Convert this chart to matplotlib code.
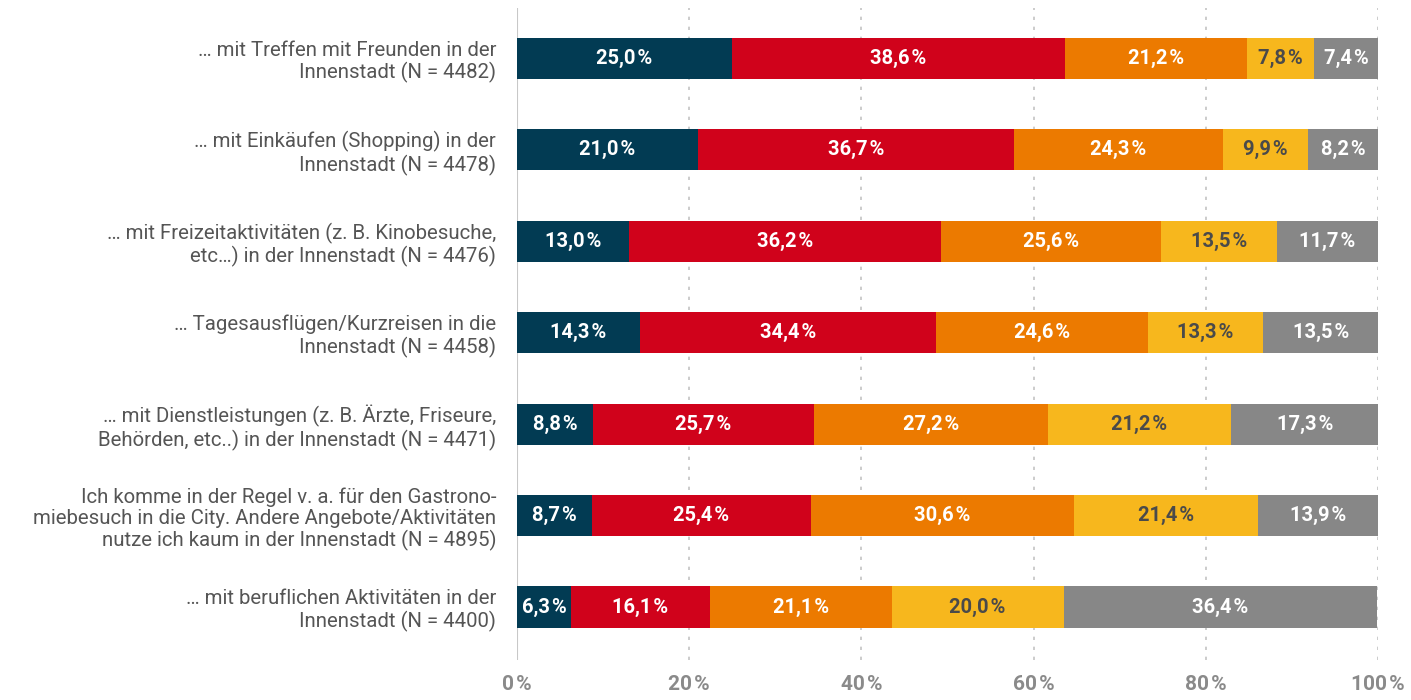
import matplotlib
matplotlib.use('Agg')
import matplotlib.pyplot as plt
import numpy as np

plt.rcParams['font.family'] = ['Roboto', 'DejaVu Sans']

categories = [
    '… mit Treffen mit Freunden in der\nInnenstadt (N = 4482)',
    '… mit Einkäufen (Shopping) in der\nInnenstadt (N = 4478)',
    '… mit Freizeitaktivitäten (z. B. Kinobesuche,\netc…) in der Innenstadt (N = 4476)',
    '… Tagesausflügen/Kurzreisen in die\nInnenstadt (N = 4458)',
    '… mit Dienstleistungen (z. B. Ärzte, Friseure,\nBehörden, etc..) in der Innenstadt (N = 4471)',
    'Ich komme in der Regel v. a. für den Gastrono-\nmiebesuch in die City. Andere Angebote/Aktivitäten\nnutze ich kaum in der Innenstadt (N = 4895)',
    '… mit beruflichen Aktivitäten in der\nInnenstadt (N = 4400)',
]

s1 = [25.0, 21.0, 13.0, 14.3, 8.8, 8.7, 6.3]
s2 = [38.6, 36.7, 36.2, 34.4, 25.7, 25.4, 16.1]
s3 = [21.2, 24.3, 25.6, 24.6, 27.2, 30.6, 21.1]
s4 = [7.8, 9.9, 13.5, 13.3, 21.2, 21.4, 20.0]
s5 = [7.4, 8.2, 11.7, 13.5, 17.3, 13.9, 36.4]

series = [s1, s2, s3, s4, s5]
colors = ['#023b53', '#d0021b', '#ec7a00', '#f7b71d', '#878787']
text_colors = ['white', 'white', 'white', '#4a4a4a', 'white']

fig = plt.figure(figsize=(14.11, 7.0), dpi=100)
ax = fig.add_axes([0.3664, 0.0571, 0.6102, 0.9315])

y = np.arange(len(categories))
left = np.zeros(len(categories))
for vals, col, tcol in zip(series, colors, text_colors):
    vals = np.array(vals)
    ax.barh(y, vals, left=left, height=0.45, color=col, zorder=2)
    for yi, l, v in zip(y, left, vals):
        ax.text(l + v / 2, yi, f'{v:.1f}'.replace('.', ',') + '\u200a%',
                ha='center', va='center', color=tcol, fontsize=14.5,
                fontweight='bold', zorder=3)
    left = left + vals

ax.set_xlim(0, 100)
ax.set_ylim(6.58, -0.552)
ax.set_xticks([0, 20, 40, 60, 80, 100])
ax.set_xticklabels(['0\u200a%', '20\u200a%', '40\u200a%', '60\u200a%', '80\u200a%', '100\u200a%'],
                   fontsize=15, fontweight='bold', color='#8a8a8a')
ax.tick_params(axis='x', length=0, pad=11)
ax.set_yticks(y)
ax.set_yticklabels(categories, fontsize=14.7, color='#555555', ha='right',
                   linespacing=1.15)
ax.tick_params(axis='y', length=0, pad=15)

for xv in [20, 40, 60, 80, 100]:
    ax.axvline(xv, color='#c4c4c4', linestyle=(0, (2, 4)), linewidth=1.2, zorder=1)
ax.axvline(0, color='#c8c8c8', linewidth=1.5, zorder=1)

for sp in ax.spines.values():
    sp.set_visible(False)

fig.savefig('out.png', dpi=100)
